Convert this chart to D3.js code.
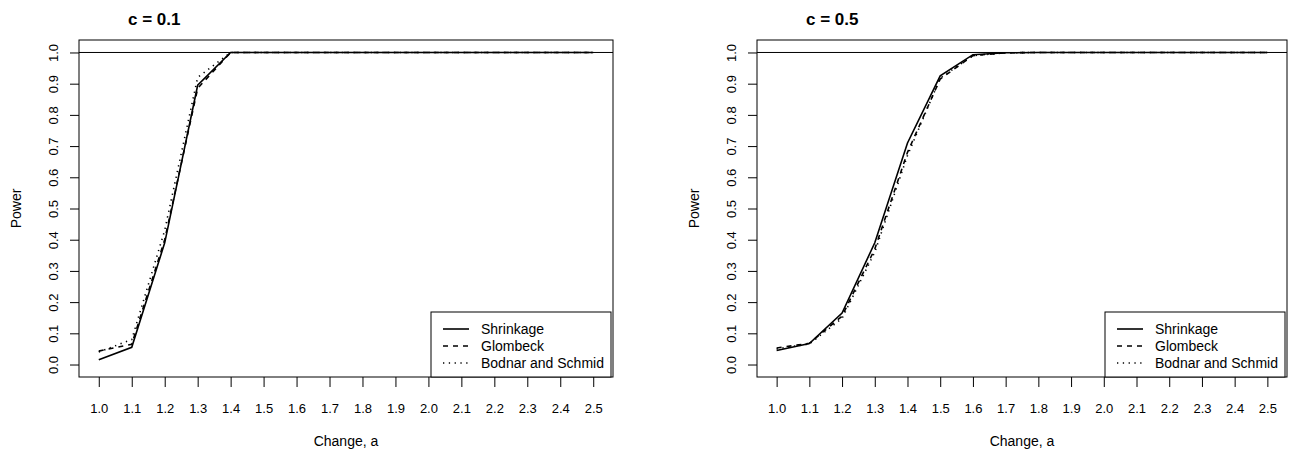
<!DOCTYPE html>
<meta charset="utf-8">
<head>
<style>
body { margin: 0; background: #fff; }
svg { font-family: "Liberation Sans", Arial, sans-serif; }
</style>
</head>
<script src="https://d3js.org/d3.v7.min.js"></script>
<div id="chart"></div>
<script>
// change values on the x axis
var changeA = [1.0, 1.1, 1.2, 1.3, 1.4, 1.5, 1.6, 1.7, 1.8, 1.9, 2.0, 2.1, 2.2, 2.3, 2.4, 2.5];
var yTicks = [0.0, 0.1, 0.2, 0.3, 0.4, 0.5, 0.6, 0.7, 0.8, 0.9, 1.0];
var seriesNames = ["Shrinkage", "Glombeck", "Bodnar and Schmid"];
var panelTitles = ["c = 0.1", "c = 0.5"];

// c = 0.1
var shrink01  = [0.015, 0.055, 0.39, 0.895, 1.0, 1, 1, 1, 1, 1, 1, 1, 1, 1, 1, 1];
var glomb01   = [0.043, 0.065, 0.40, 0.885, 1.0, 1, 1, 1, 1, 1, 1, 1, 1, 1, 1, 1];
var bodnar01  = [0.040, 0.080, 0.43, 0.920, 1.0, 1, 1, 1, 1, 1, 1, 1, 1, 1, 1, 1];
// c = 0.5
var shrink05  = [0.045, 0.067, 0.165, 0.39, 0.71, 0.925, 0.993, 0.999, 1, 1, 1, 1, 1, 1, 1, 1];
var glomb05   = [0.053, 0.068, 0.155, 0.37, 0.68, 0.915, 0.990, 0.999, 1, 1, 1, 1, 1, 1, 1, 1];
var bodnar05  = [0.050, 0.066, 0.148, 0.36, 0.67, 0.918, 0.990, 0.999, 1, 1, 1, 1, 1, 1, 1, 1];

var W = 1296, H = 455;
var dashes = [null, "5,5", "1.3,4.5"];

var svg = d3.select("#chart").append("svg")
  .attr("width", W).attr("height", H);

var panels = [
  {left: 79, right: 613, title: panelTitles[0], data: [shrink01, glomb01, bodnar01]},
  {left: 757, right: 1287, title: panelTitles[1], data: [shrink05, glomb05, bodnar05]}
];
var plotTop = 40, plotBottom = 377;

panels.forEach(function(p) {
  var x = d3.scaleLinear().domain([0.94, 2.56]).range([p.left, p.right]);
  var y = d3.scaleLinear().domain([-0.04, 1.04]).range([plotBottom, plotTop]);
  var g = svg.append("g");

  // title
  g.append("text")
    .attr("x", p.left + 49).attr("y", 25)
    .style("font-size", "17px").style("font-weight", "bold")
    .text(p.title);

  // x axis
  var xa = g.append("g")
    .attr("transform", "translate(0," + plotBottom + ")")
    .call(d3.axisBottom(x).tickValues(changeA).tickSize(10).tickPadding(17)
      .tickFormat(d3.format(".1f")));
  xa.select(".domain").remove();
  xa.selectAll("text").style("font-size", "13px").attr("fill", "#000");

  // y axis, labels rotated like R's default
  var ya = g.append("g")
    .attr("transform", "translate(" + p.left + ",0)")
    .call(d3.axisLeft(y).tickValues(yTicks).tickSize(9).tickFormat(d3.format(".1f")));
  ya.select(".domain").remove();
  ya.selectAll("text")
    .style("font-size", "13px").attr("fill", "#000")
    .attr("text-anchor", "middle")
    .attr("x", 0).attr("y", 0).attr("dy", "0.35em")
    .attr("transform", "translate(-26,0) rotate(-90)");

  // axis titles
  g.append("text")
    .attr("x", (p.left + p.right) / 2).attr("y", 446)
    .attr("text-anchor", "middle").style("font-size", "14px")
    .text("Change, a");
  g.append("text")
    .attr("transform", "translate(" + (p.left - 58) + "," + ((plotTop + plotBottom) / 2) + ") rotate(-90)")
    .attr("text-anchor", "middle").style("font-size", "14px")
    .text("Power");

  // box
  g.append("rect")
    .attr("x", p.left).attr("y", plotTop)
    .attr("width", p.right - p.left).attr("height", plotBottom - plotTop)
    .attr("fill", "none").attr("stroke", "#000").attr("stroke-width", 1);

  // reference line at 1
  g.append("line")
    .attr("x1", p.left).attr("x2", p.right)
    .attr("y1", y(1)).attr("y2", y(1))
    .attr("stroke", "#000").attr("stroke-width", 1);

  var line = d3.line()
    .x(function(d, i) { return x(changeA[i]); })
    .y(function(d) { return y(d); });

  p.data.forEach(function(vals, k) {
    g.append("path")
      .datum(vals)
      .attr("d", line)
      .attr("fill", "none")
      .attr("stroke", "#000")
      .attr("stroke-width", 1.6)
      .attr("stroke-dasharray", dashes[k]);
  });

  // legend (bottom right)
  var lw = 180, lh = 65;
  var lx = p.right - 2 - lw, ly = plotBottom - lh;
  g.append("rect")
    .attr("x", lx).attr("y", ly).attr("width", lw).attr("height", lh)
    .attr("fill", "#fff").attr("stroke", "#000").attr("stroke-width", 1);
  seriesNames.forEach(function(name, k) {
    var cy = ly + 17 + k * 17;
    g.append("line")
      .attr("x1", lx + 12).attr("x2", lx + 38)
      .attr("y1", cy).attr("y2", cy)
      .attr("stroke", "#000").attr("stroke-width", 1.6)
      .attr("stroke-dasharray", dashes[k]);
    g.append("text")
      .attr("x", lx + 50).attr("y", cy + 5)
      .style("font-size", "14px")
      .text(name);
  });
});
</script>
